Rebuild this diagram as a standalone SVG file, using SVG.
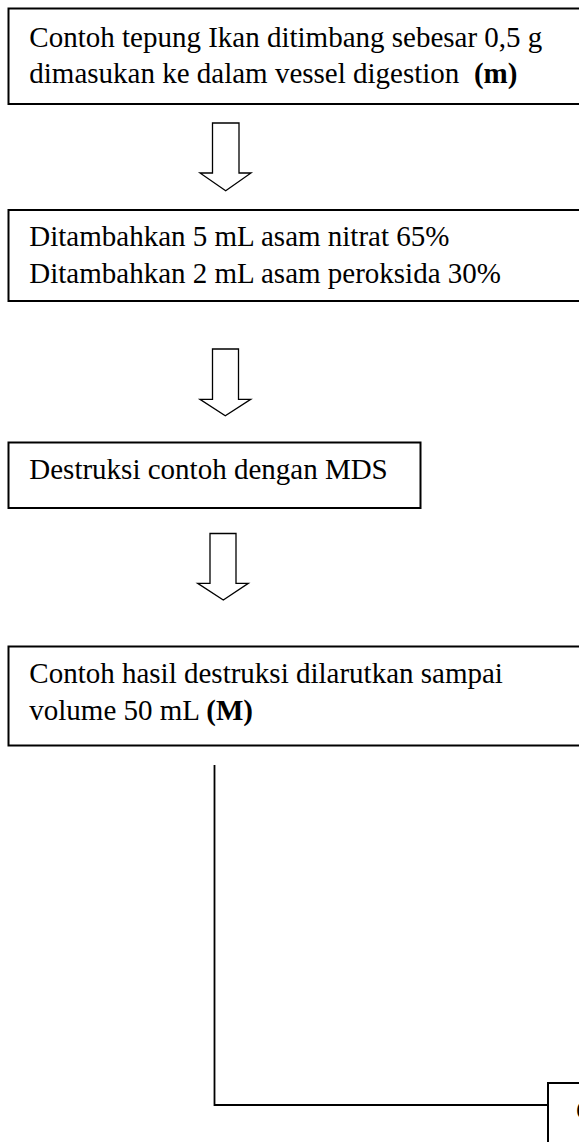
<svg xmlns="http://www.w3.org/2000/svg" width="579" height="1142" viewBox="0 0 579 1142">
<style>
.box{fill:#fff;stroke:#000;stroke-width:2}
.arr{fill:#fff;stroke:#000;stroke-width:1.3;stroke-linejoin:miter}
.ln{fill:none;stroke:#000;stroke-width:1.8}
text{font-family:"Liberation Serif","Times New Roman",serif;font-size:29px;fill:#000}
.b{font-weight:bold}
</style>
<rect width="579" height="1142" fill="#fff"/>
<g id="connectors">
<polygon class="arr" points="212.5,123 239,123 239,173 251,173 225.7,190.7 200,173 212.5,173"/>
<polygon class="arr" points="212.5,349 238.5,349 238.5,399.3 250.7,399.3 225.3,415.7 200,399.3 212.5,399.3"/>
<polygon class="arr" points="210,533.5 236,533.5 236,583.3 248.3,583.3 223.3,600 197.7,583.3 210,583.3"/>
<polyline class="ln" points="214.5,765 214.5,1105 548,1105"/>
</g>
<g id="node1">
<rect class="box" x="8.5" y="8.5" width="600" height="95.5"/>
<text x="29.3" y="46.5">Contoh tepung Ikan ditimbang sebesar 0,5 g</text>
<text x="29.3" y="83" xml:space="preserve">dimasukan ke dalam vessel digestion  <tspan class="b">(m)</tspan></text>
</g>
<g id="node2">
<rect class="box" x="8.5" y="210" width="600" height="91"/>
<text x="29.3" y="245.5">Ditambahkan 5 mL asam nitrat 65%</text>
<text x="29.3" y="282.5">Ditambahkan 2 mL asam peroksida 30%</text>
</g>
<g id="node3">
<rect class="box" x="8.5" y="442.5" width="412" height="65.5"/>
<text x="29.3" y="479">Destruksi contoh dengan MDS</text>
</g>
<g id="node4">
<rect class="box" x="8.5" y="646.5" width="600" height="99"/>
<text x="29.3" y="683">Contoh hasil destruksi dilarutkan sampai</text>
<text x="29.3" y="720">volume 50 mL <tspan class="b">(M)</tspan></text>
</g>
<g id="node5">
<rect class="box" x="548" y="1083" width="100" height="100"/>
<text x="576" y="1120">C</text>
</g>
</svg>
